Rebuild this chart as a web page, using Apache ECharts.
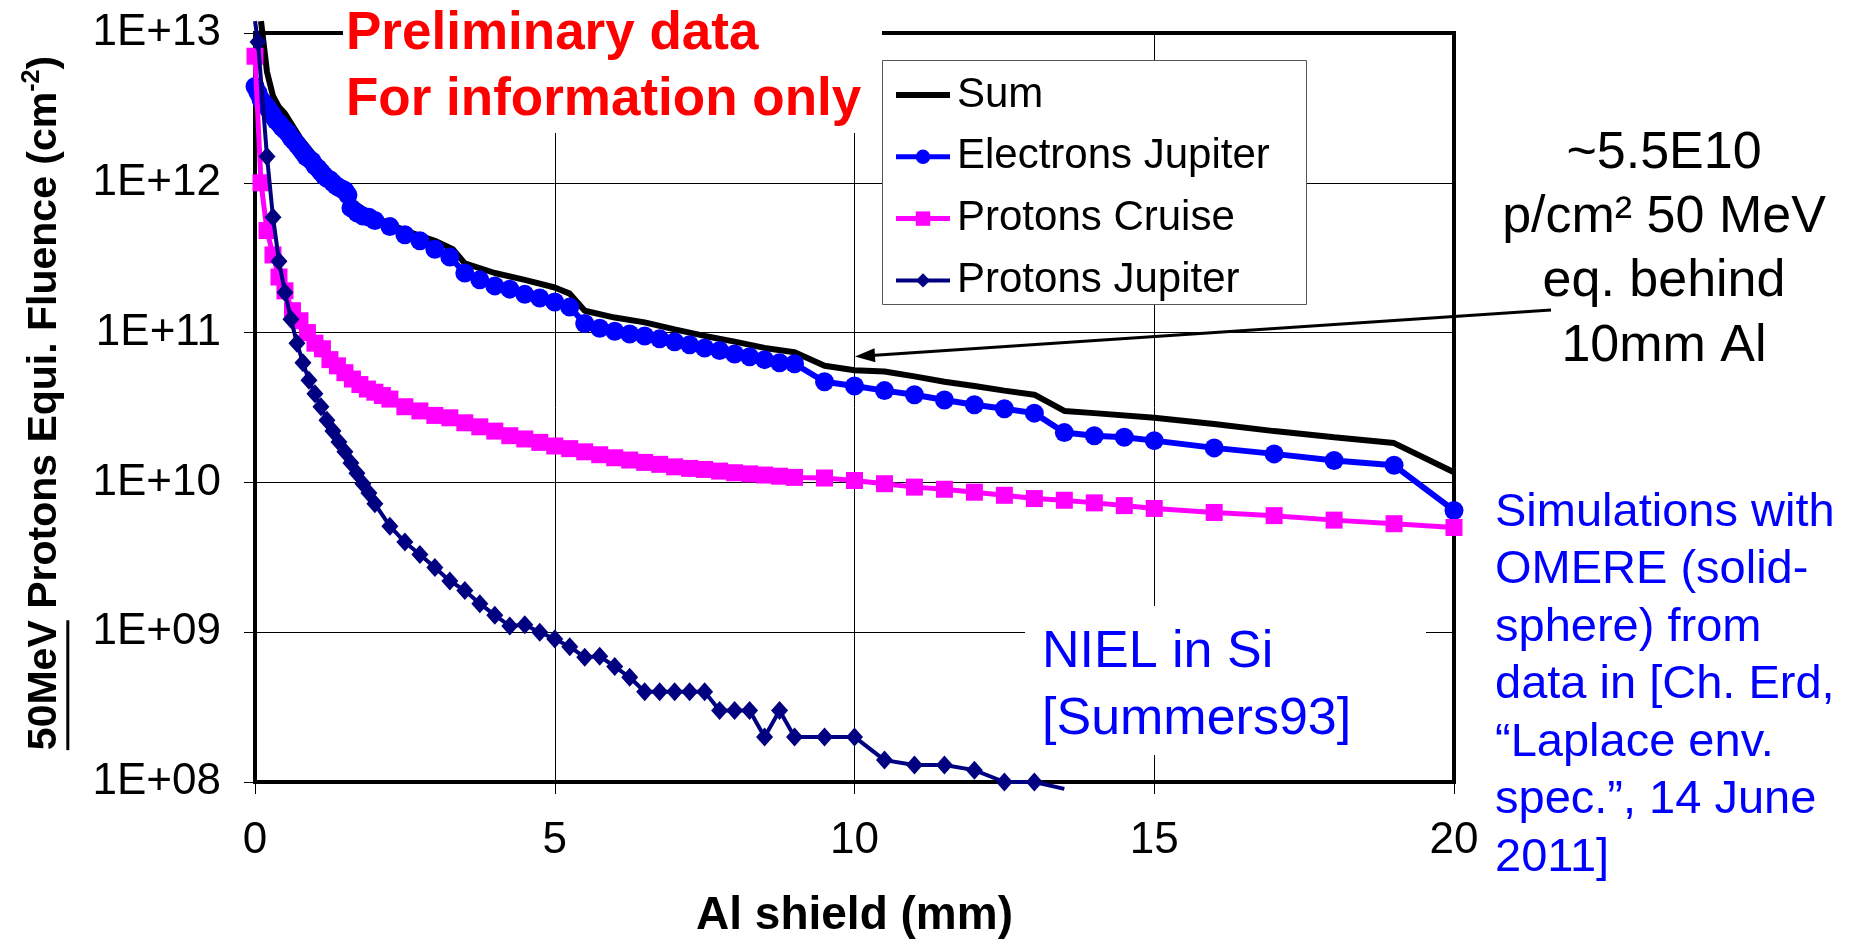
<!DOCTYPE html>
<html>
<head>
<meta charset="utf-8">
<script src="https://cdn.jsdelivr.net/npm/echarts@6/dist/echarts.min.js"></script>
<style>
html,body{margin:0;padding:0;background:#fff;}
#c{width:1857px;height:946px;}
</style>
</head>
<body>
<div id="c"></div>
<script>
// ---------------- DATA ----------------
const seriesNames = ['Sum', 'Electrons Jupiter', 'Protons Cruise', 'Protons Jupiter'];
const xTickLabels = ['0', '5', '10', '15', '20'];
const yTickLabels = ['1E+08', '1E+09', '1E+10', '1E+11', '1E+12', '1E+13'];

const sumX = [0.1,0.2,0.3,0.4,0.5,0.75,1,1.25,1.5,1.6,2,2.5,3,3.3,3.5,4,4.5,5,5.25,5.5,6,6.5,7,7.5,8,8.5,9,9.5,10,10.5,11,11.5,12,12.5,13,13.5,14,15,16,17,18,19,20];
const sumY = [1.2e13,5.5e12,3.8e12,3.2e12,2.9e12,2.0e12,1.5e12,1.17e12,9.3e11,7.6e11,5.9e11,4.8e11,4.1e11,3.6e11,2.9e11,2.5e11,2.25e11,2.0e11,1.82e11,1.4e11,1.26e11,1.17e11,1.05e11,9.5e10,8.7e10,7.9e10,7.4e10,6.0e10,5.6e10,5.5e10,5.1e10,4.7e10,4.4e10,4.1e10,3.85e10,3.0e10,2.9e10,2.7e10,2.45e10,2.2e10,2.0e10,1.83e10,1.17e10];

const electronsX = [0,0.05,0.1,0.15,0.2,0.25,0.3,0.35,0.4,0.45,0.5,0.55,0.6,0.65,0.7,0.75,0.8,0.85,0.9,0.95,1,1.05,1.1,1.15,1.2,1.25,1.3,1.35,1.4,1.45,1.5,1.55,
  1.6,1.7,1.8,1.9,2,2.25,2.5,2.75,3,3.25,3.5,3.75,4,4.25,4.5,4.75,5,5.25,5.5,5.75,6,6.25,6.5,6.75,7,7.25,7.5,7.75,8,8.25,8.5,8.75,9,9.5,10,10.5,11,11.5,12,12.5,13,13.5,14,14.5,15,16,17,18,19,20];
const electronsY = [4.4e12,4.0e12,3.6e12,3.4e12,3.2e12,3.0e12,2.8e12,2.6e12,2.5e12,2.35e12,2.25e12,2.15e12,2.0e12,1.9e12,1.8e12,1.7e12,1.6e12,1.5e12,1.45e12,1.4e12,1.3e12,1.25e12,1.18e12,1.12e12,1.07e12,1.05e12,1.0e12,9.6e11,9.3e11,9.1e11,8.9e11,8.3e11,
  6.8e11,6.3e11,6.0e11,5.9e11,5.6e11,5.1e11,4.5e11,4.1e11,3.6e11,3.2e11,2.5e11,2.25e11,2.05e11,1.95e11,1.8e11,1.7e11,1.6e11,1.48e11,1.15e11,1.07e11,1.02e11,9.8e10,9.5e10,9.1e10,8.7e10,8.3e10,7.9e10,7.6e10,7.2e10,6.9e10,6.6e10,6.3e10,6.2e10,4.7e10,4.4e10,4.1e10,3.85e10,3.55e10,3.3e10,3.1e10,2.9e10,2.15e10,2.05e10,2.0e10,1.9e10,1.7e10,1.55e10,1.4e10,1.3e10,6.5e9];

const cruiseX = [0,0.1,0.2,0.3,0.4,0.5,0.625,0.75,0.875,1,1.125,1.25,1.375,1.5,1.625,1.75,1.875,2,2.125,2.25,2.5,2.75,3,3.25,3.5,3.75,4,4.25,4.5,4.75,5,5.25,5.5,5.75,6,6.25,6.5,6.75,7,7.25,7.5,7.75,8,8.25,8.5,8.75,9,9.5,10,10.5,11,11.5,12,12.5,13,13.5,14,14.5,15,16,17,18,19,20];
const cruiseY = [7.0e12,1.0e12,4.8e11,3.3e11,2.35e11,1.9e11,1.4e11,1.2e11,1.0e11,8.5e10,7.8e10,6.6e10,6.0e10,5.4e10,4.9e10,4.5e10,4.2e10,4.0e10,3.8e10,3.6e10,3.2e10,3.0e10,2.8e10,2.7e10,2.5e10,2.35e10,2.2e10,2.05e10,1.95e10,1.85e10,1.75e10,1.68e10,1.6e10,1.53e10,1.46e10,1.41e10,1.36e10,1.32e10,1.27e10,1.24e10,1.22e10,1.19e10,1.16e10,1.14e10,1.12e10,1.1e10,1.08e10,1.07e10,1.03e10,9.8e9,9.3e9,9.0e9,8.6e9,8.2e9,7.8e9,7.6e9,7.3e9,7.0e9,6.7e9,6.3e9,6.0e9,5.6e9,5.3e9,5.0e9];

const jupiterX = [0,0.05,0.2,0.3,0.4,0.5,0.6,0.7,0.8,0.9,1,1.1,1.2,1.3,1.4,1.5,1.6,1.7,1.8,1.9,2,2.25,2.5,2.75,3,3.25,3.5,3.75,4,4.25,4.5,4.75,5,5.25,5.5,5.75,6,6.25,6.5,6.75,7,7.25,7.5,7.75,8,8.25,8.5,8.75,9,9.5,10,10.5,11,11.5,12,12.5,13,13.5];
const jupiterY = [1.2e13,8.7e12,1.5e12,5.9e11,3.0e11,1.85e11,1.23e11,8.5e10,6.3e10,4.8e10,3.9e10,3.2e10,2.6e10,2.2e10,1.86e10,1.6e10,1.35e10,1.15e10,9.8e9,8.5e9,7.2e9,5.1e9,4.0e9,3.3e9,2.7e9,2.2e9,1.9e9,1.55e9,1.3e9,1.1e9,1.12e9,1.0e9,9.0e8,8.0e8,6.8e8,6.9e8,5.9e8,5.0e8,4e8,4e8,4e8,4e8,4e8,3e8,3e8,3e8,2e8,3e8,2e8,2e8,2e8,1.4e8,1.3e8,1.3e8,1.2e8,1e8,1e8,9e7];

// ---------------- STYLE / LAYOUT ----------------
const FONT = "'Liberation Sans', Arial, Helvetica, sans-serif";
const Y_MIN = 1e8, Y_MAX = 1e13;
const GRID = {left: 255, top: 33, width: 1199, height: 749};

function build(xs, ys) {
  return xs.map((x, i) => {
    const v = ys[i];
    const item = {value: [x, v]};
    if (v < Y_MIN * 0.999 || v > Y_MAX * 1.001) item.symbol = 'none';
    return item;
  });
}

const mctx = document.createElement('canvas').getContext('2d');
function tw(text, size, weight) {
  mctx.font = (weight || 'normal') + ' ' + size + 'px ' + FONT;
  return mctx.measureText(text).width;
}

// y-axis title pieces
const YT_F = 41, YT_SUP = 25;
const ytPart1 = '50MeV Protons Equi. Fluence (cm', ytSup = '-2', ytPart3 = ')';
const w1 = tw(ytPart1, YT_F, 'bold');
const w50 = tw('50MeV', YT_F, 'bold');
const wSup = tw(ytSup, YT_SUP, 'bold');
const w3 = tw(ytPart3, YT_F, 'bold');
const ytTotal = w1 + wSup + w3;
const ytCX = 45, ytCY = 403;

// arrow
const arrowTail = [1551, 310], arrowTip = [855, 356.5];
const ang = Math.atan2(arrowTip[1] - arrowTail[1], arrowTip[0] - arrowTail[0]);
const AL = 20, AW = 7;
const ab = [arrowTip[0] - AL * Math.cos(ang), arrowTip[1] - AL * Math.sin(ang)];
const arrowHead = [
  arrowTip,
  [ab[0] + AW * Math.sin(ang), ab[1] - AW * Math.cos(ang)],
  [ab[0] - AW * Math.sin(ang), ab[1] + AW * Math.cos(ang)]
];

const chart = echarts.init(document.getElementById('c'), null, {renderer: 'canvas'});

const txt = (x, y, text, size, color, extra) => Object.assign({
  type: 'text', x: x, y: y, z: 7,
  style: Object.assign({text: text, fontSize: size, fontFamily: FONT, fill: color,
    align: 'left', verticalAlign: 'middle'}, (extra || {}))
});

const option = {
  animation: false,
  backgroundColor: '#fff',
  grid: Object.assign({show: true, borderColor: '#000', borderWidth: 4, backgroundColor: 'transparent'}, GRID),
  xAxis: {
    type: 'value', min: 0, max: 20, interval: 5,
    axisLine: {show: false},
    axisTick: {show: true, length: 12, lineStyle: {color: '#000', width: 1}},
    axisLabel: {fontSize: 44, color: '#000', fontFamily: FONT, margin: 37,
      formatter: v => xTickLabels[Math.round(v / 5)]},
    splitLine: {show: true, lineStyle: {color: '#000', width: 1}}
  },
  yAxis: {
    type: 'log', logBase: 10, min: Y_MIN, max: Y_MAX,
    axisLine: {show: false},
    axisTick: {show: true, length: 11, lineStyle: {color: '#000', width: 1}},
    axisLabel: {fontSize: 44, color: '#000', fontFamily: FONT, margin: 34,
      formatter: v => yTickLabels[Math.round(Math.log10(v)) - 8]},
    splitLine: {show: true, lineStyle: {color: '#000', width: 1}},
    minorTick: {show: false}, minorSplitLine: {show: false}
  },
  legend: {
    show: true, orient: 'vertical', left: 893, top: 73, padding: 0,
    itemWidth: 54, itemHeight: 18, itemGap: 17.8, selectedMode: false, z: 8,
    data: [
      {name: seriesNames[0], itemStyle: {opacity: 0}, lineStyle: {width: 6}},
      {name: seriesNames[1], lineStyle: {width: 5}},
      {name: seriesNames[2], lineStyle: {width: 5}},
      {name: seriesNames[3], lineStyle: {width: 4}}
    ],
    textStyle: {fontSize: 42, fontFamily: FONT, color: '#000', lineHeight: 44, padding: [0, 0, 0, 2]}
  },
  series: [
    {name: seriesNames[0], type: 'line', data: build(sumX, sumY), symbol: 'none', showSymbol: false,
      lineStyle: {color: '#000', width: 6}, itemStyle: {color: '#000'}, clip: false, z: 2},
    {name: seriesNames[1], type: 'line', data: build(electronsX, electronsY), symbol: 'circle', symbolSize: 19,
      showAllSymbol: true, lineStyle: {color: '#0000FF', width: 6}, itemStyle: {color: '#0000FF'}, clip: false, z: 3},
    {name: seriesNames[2], type: 'line', data: build(cruiseX, cruiseY), symbol: 'rect', symbolSize: 17,
      showAllSymbol: true, lineStyle: {color: '#FF00FF', width: 5}, itemStyle: {color: '#FF00FF'}, clip: false, z: 4},
    {name: seriesNames[3], type: 'line', data: build(jupiterX, jupiterY), symbol: 'diamond', symbolSize: [17, 19],
      showAllSymbol: true, lineStyle: {color: '#000080', width: 4}, itemStyle: {color: '#000080'}, clip: false, z: 5}
  ],
  graphic: [
    // legend frame
    {type: 'rect', z: 6, shape: {x: 882.5, y: 60.5, width: 424, height: 244},
      style: {fill: '#fff', stroke: '#555', lineWidth: 1}},
    // red warning box
    {type: 'rect', z: 6, shape: {x: 343, y: 0, width: 539, height: 133}, style: {fill: '#fff'}},
    txt(346, 34, 'Preliminary data', 53, '#FF0000', {fontWeight: 'bold'}),
    txt(346, 100, 'For information only', 53, '#FF0000', {fontWeight: 'bold'}),
    // NIEL box
    {type: 'rect', z: 6, shape: {x: 1025, y: 606, width: 401, height: 149}, style: {fill: '#fff'}},
    txt(1042, 653, 'NIEL in Si', 52, '#0000FF'),
    txt(1042, 720, '[Summers93]', 52, '#0000FF'),
    // right annotation
    txt(1664, 154, '~5.5E10', 52, '#000', {align: 'center'}),
    txt(1664, 218, 'p/cm² 50 MeV', 52, '#000', {align: 'center'}),
    txt(1664, 282, 'eq. behind', 52, '#000', {align: 'center'}),
    txt(1664, 347, '10mm Al', 52, '#000', {align: 'center'}),
    // arrow
    {type: 'line', z: 7, shape: {x1: arrowTail[0], y1: arrowTail[1], x2: ab[0], y2: ab[1]},
      style: {stroke: '#000', lineWidth: 3}},
    {type: 'polygon', z: 7, shape: {points: arrowHead}, style: {fill: '#000'}},
    // source note
    txt(1495, 484, 'Simulations with\nOMERE (solid-\nsphere) from\ndata in [Ch. Erd,\n“Laplace env.\nspec.”, 14 June\n2011]', 47, '#0000FF',
      {verticalAlign: 'top', lineHeight: 57.5}),
    // x-axis title
    txt(854.5, 916, 'Al shield (mm)', 46, '#000', {align: 'center', fontWeight: 'bold'}),
    // y-axis title (rotated)
    {type: 'group', x: ytCX, y: ytCY + ytTotal / 2, rotation: Math.PI / 2, z: 7, children: [
      {type: 'text', x: 0, y: 0, style: {text: ytPart1, fontSize: YT_F, fontWeight: 'bold', fontFamily: FONT, fill: '#000', align: 'left', verticalAlign: 'middle'}},
      {type: 'text', x: w1, y: -YT_F * 0.32, style: {text: ytSup, fontSize: YT_SUP, fontWeight: 'bold', fontFamily: FONT, fill: '#000', align: 'left', verticalAlign: 'middle'}},
      {type: 'text', x: w1 + wSup, y: 0, style: {text: ytPart3, fontSize: YT_F, fontWeight: 'bold', fontFamily: FONT, fill: '#000', align: 'left', verticalAlign: 'middle'}},
      {type: 'rect', shape: {x: 0, y: YT_F * 0.52, width: w50, height: 3}, style: {fill: '#000'}}
    ]}
  ]
};
chart.setOption(option);
</script>
</body>
</html>
